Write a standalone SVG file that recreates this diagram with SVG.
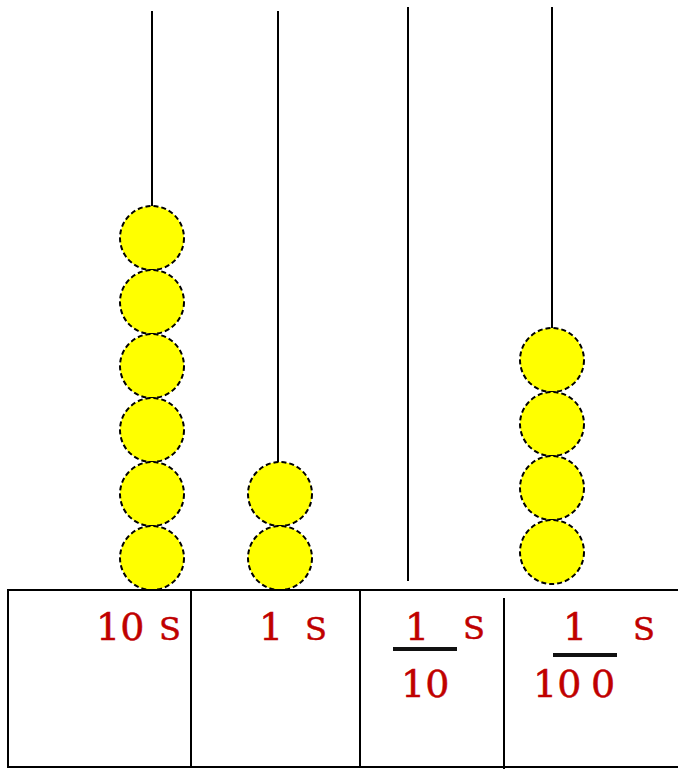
<svg xmlns="http://www.w3.org/2000/svg" width="678" height="769" viewBox="0 0 678 769">
<style>
.rod{stroke:#000;stroke-width:2;fill:none}
.bead{fill:#ffff00;stroke:#000;stroke-width:2;stroke-dasharray:5 3}
.frame{stroke:#000;stroke-width:2;fill:none}
.lbl{font-family:"DejaVu Serif","Liberation Serif",serif;fill:#c00000;stroke:#c00000;stroke-width:0.5;font-size:38px}
.s{font-size:32px}
.bar{stroke:#111;stroke-width:4}
</style>
<rect width="678" height="769" fill="#fff"/>
<g id="rods">
<line class="rod" x1="152" y1="11" x2="152" y2="207"/>
<line class="rod" x1="278" y1="11" x2="278" y2="463"/>
<line class="rod" x1="408" y1="7" x2="408" y2="581"/>
<line class="rod" x1="552" y1="7" x2="552" y2="328"/>
</g>
<g id="tens">
<circle class="bead" cx="152" cy="238" r="32"/>
<circle class="bead" cx="152" cy="302" r="32"/>
<circle class="bead" cx="152" cy="366" r="32"/>
<circle class="bead" cx="152" cy="430" r="32"/>
<circle class="bead" cx="152" cy="494" r="32"/>
<circle class="bead" cx="152" cy="558" r="32"/>
</g>
<g id="ones">
<circle class="bead" cx="280" cy="494" r="32"/>
<circle class="bead" cx="280" cy="558" r="32"/>
</g>
<g id="hundredths">
<circle class="bead" cx="552" cy="360" r="32"/>
<circle class="bead" cx="552" cy="424" r="32"/>
<circle class="bead" cx="552" cy="488" r="32"/>
<circle class="bead" cx="552" cy="552" r="32"/>
</g>
<g id="frame">
<polyline class="frame" points="680,590 8,590 8,767 680,767"/>
<line class="frame" x1="191" y1="590" x2="191" y2="767"/>
<line class="frame" x1="360" y1="590" x2="360" y2="767"/>
<line class="frame" x1="504" y1="598" x2="504" y2="769"/>
</g>
<g id="labels">
<text class="lbl" x="96" y="640">10</text>
<text class="lbl s" x="159" y="640">S</text>
<text class="lbl" x="259" y="640">1</text>
<text class="lbl s" x="305" y="640">S</text>
<text class="lbl" x="405" y="640">1</text>
<text class="lbl s" x="463" y="639">S</text>
<line class="bar" x1="393" y1="649" x2="457" y2="649"/>
<text class="lbl" x="401" y="697">10</text>
<text class="lbl" x="563" y="640">1</text>
<text class="lbl s" x="633" y="640">S</text>
<line class="bar" x1="553" y1="655" x2="617" y2="655"/>
<text class="lbl" x="533" y="697">10</text>
<text class="lbl" x="591" y="697">0</text>
</g>
</svg>
